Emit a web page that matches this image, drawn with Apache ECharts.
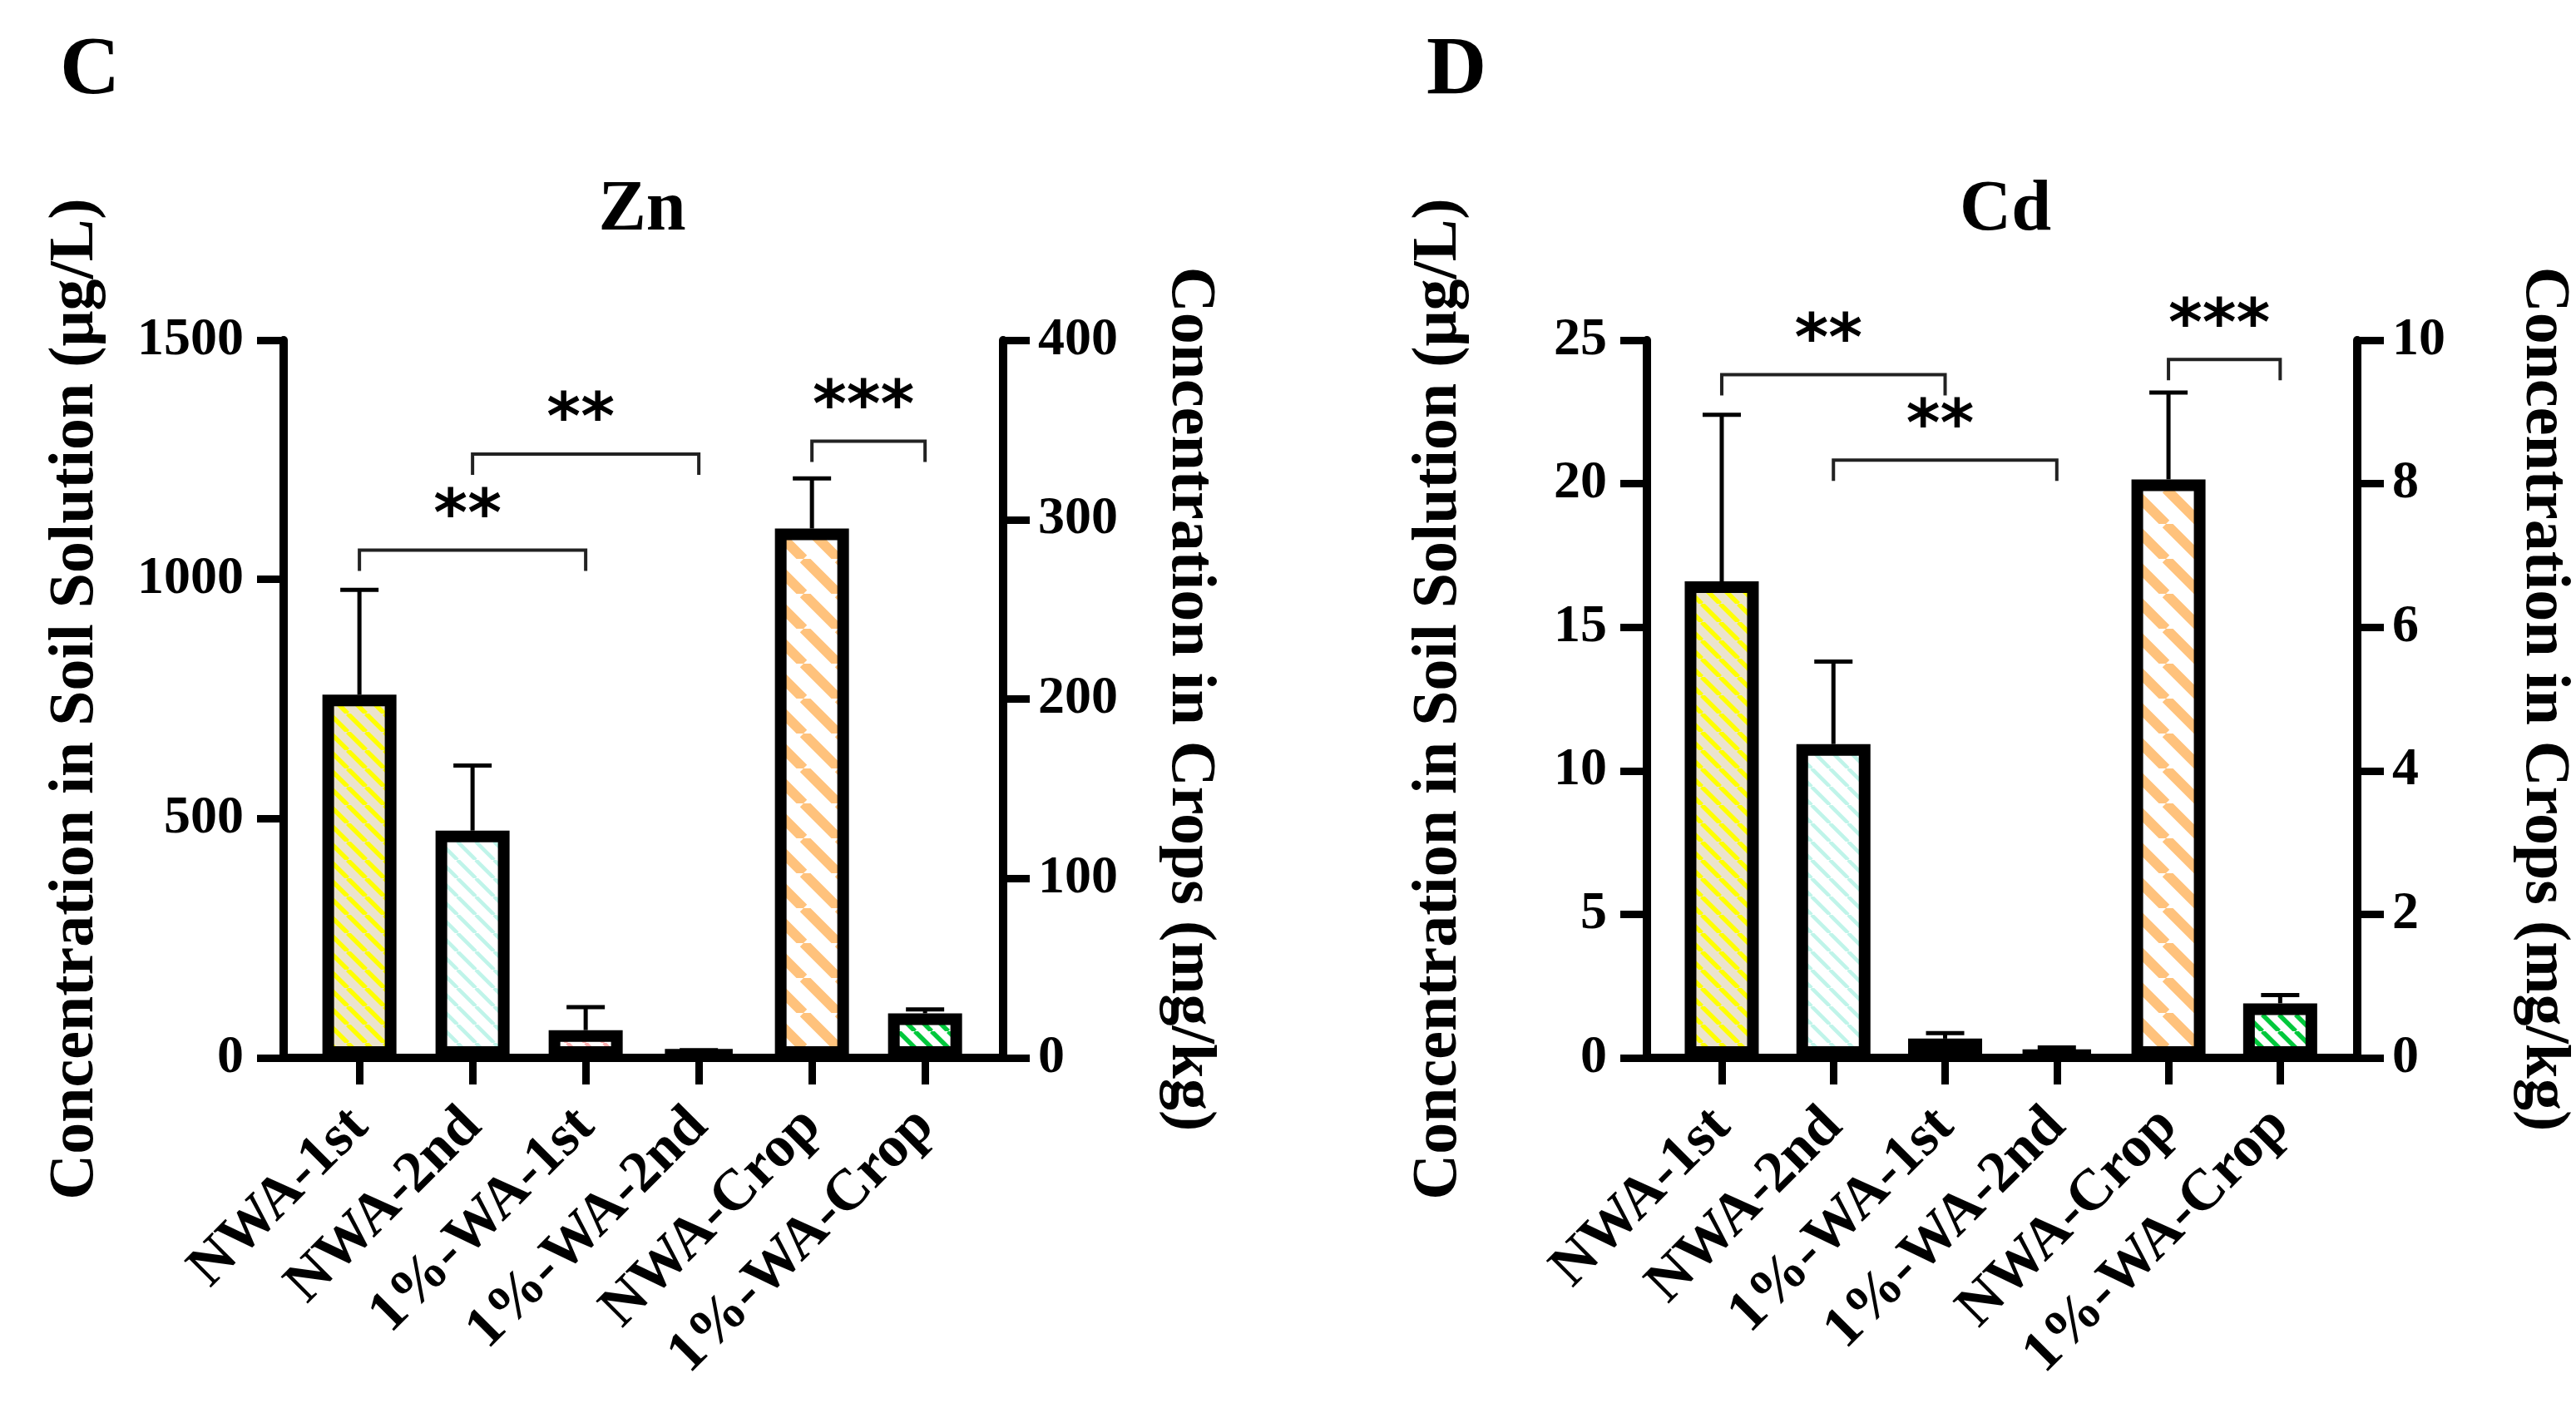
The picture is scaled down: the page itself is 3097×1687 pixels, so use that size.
<!DOCTYPE html>
<html>
<head>
<meta charset="utf-8">
<script src="https://cdn.jsdelivr.net/npm/echarts@6/dist/echarts.min.js"></script>
<style>
  html, body { margin: 0; padding: 0; background: #fff; }
  #chart { width: 3097px; height: 1687px; }
</style>
</head>
<body>
<div id="chart"></div>
<script>
// categories
var categories = ['NWA-1st', 'NWA-2nd', '1%-WA-1st', '1%-WA-2nd', 'NWA-Crop', '1%-WA-Crop'];

// Zn: soil solution (µg/L, left axis) and crops (mg/kg, right axis)
var znSoil = [759, 475, 58, 13];
var znSoilErr = [978, 611, 106, 16];
var znCrop = [295, 24.8];
var znCropErr = [323, 27];

// Cd
var cdSoil = [16.6, 10.93, 0.67, 0.19];
var cdSoilErr = [22.4, 13.8, 0.86, 0.36];
var cdCrop = [8.06, 0.76];
var cdCropErr = [9.27, 0.875];

// significance brackets: [from index, to index, height], heights in axis units
var znSoilBrackets = [[0, 2, 1061], [1, 3, 1262]];
var znCropBrackets = [[4, 5, 343.7]];
var cdSoilBrackets = [[0, 2, 23.8], [1, 3, 20.82]];
var cdCropBrackets = [[4, 5, 9.73]];
var znSoilStars = ['**', '**'];
var znCropStars = ['***'];
var cdSoilStars = ['**', '**'];
var cdCropStars = ['***'];

// axis ticks: [min, max, interval]
var znLeftTicks = [0, 1500, 500];
var znRightTicks = [0, 400, 100];
var cdLeftTicks = [0, 25, 5];
var cdRightTicks = [0, 10, 2];

var SERIF = '"Liberation Serif", "DejaVu Serif", serif';

function hatch(bg, fg, size, lw) {
	var c = document.createElement('canvas');
	c.width = c.height = size;
	var g = c.getContext('2d');
	g.fillStyle = bg;
	g.fillRect(0, 0, size, size);
	g.strokeStyle = fg;
	g.lineWidth = lw;
	g.beginPath();
	for (var k = -1; k <= 1; k++) {
		g.moveTo(k * size, 0);
		g.lineTo(k * size + size, size);
	}
	g.stroke();
	return { image: c, repeat: 'repeat' };
}

var fills = [
	hatch('#ebe3cc', '#ffff00', 22, 5.5),
	hatch('#ffffff', '#bff4e9', 22, 4.5),
	hatch('#ffffff', '#ffaeae', 22, 4.5),
	hatch('#ffffff', '#c0c0f0', 22, 4.5),
	hatch('#ffffff', '#ffc27c', 42, 12),
	hatch('#ffffff', '#00c83c', 20, 5.5)
];

var chart = echarts.init(document.getElementById('chart'));

var grids = [
	{ left: 341, top: 409, width: 865, height: 863 },
	{ left: 1980, top: 409, width: 863, height: 863 }
];

// main category axis (value type so the side margins can match the figure)
function xAxis(gi) {
	return {
		type: 'value', gridIndex: gi, min: -0.67, max: 5.69,
		splitLine: { show: false },
		axisLine: { show: true, onZero: false, lineStyle: { color: '#000', width: 10 } },
		axisTick: { show: true, customValues: [0, 1, 2, 3, 4, 5], length: 32, lineStyle: { color: '#000', width: 9 } },
		axisLabel: {
			customValues: [0, 1, 2, 3, 4, 5],
			rotate: 45, margin: 72,
			fontFamily: SERIF, fontWeight: 'bold', fontSize: 70, color: '#000',
			formatter: function (v) { return categories[Math.round(v)]; }
		}
	};
}

// hidden twin axis for the crop bars, so both bar groups keep full width
function xAxisHidden(gi) {
	return { type: 'value', gridIndex: gi, min: -0.67, max: 5.69, show: false };
}

function yAxis(gi, ticks, pos, name) {
	var right = pos === 'right';
	return {
		type: 'value', gridIndex: gi, position: pos,
		min: ticks[0], max: ticks[1], interval: ticks[2],
		name: name, nameLocation: 'middle',
		nameGap: right ? 186 : 212,
		nameRotate: right ? -90 : 90,
		nameTextStyle: { fontFamily: SERIF, fontWeight: 'bold', fontSize: 76, color: '#000' },
		splitLine: { show: false },
		axisLine: { show: true, onZero: false, lineStyle: { color: '#000', width: 10 } },
		axisTick: { show: true, length: 32, lineStyle: { color: '#000', width: 9 } },
		axisLabel: {
			margin: right ? 42 : 48, fontFamily: SERIF, fontWeight: 'bold', fontSize: 64, color: '#000',
			formatter: function (v) { return String(v); }
		}
	};
}

function barData(vals, offset) {
	return vals.map(function (v, i) {
		return { value: [i + offset, v], itemStyle: { color: fills[i + offset] } };
	});
}

function errData(vals, errs, offset) {
	return vals.map(function (v, i) { return [i + offset, v, errs[i]]; });
}

function renderErr(params, api) {
	var x = api.value(0);
	var p0 = api.coord([x, api.value(1)]);
	var p1 = api.coord([x, api.value(2)]);
	var st = { stroke: '#000', lineWidth: 5 };
	return {
		type: 'group',
		children: [
			{ type: 'line', shape: { x1: p0[0], y1: p0[1], x2: p1[0], y2: p1[1] }, style: st },
			{ type: 'line', shape: { x1: p1[0] - 23, y1: p1[1], x2: p1[0] + 23, y2: p1[1] }, style: st }
		]
	};
}

function bracketRenderer(stars) {
	return function (params, api) {
		var a = api.coord([api.value(0), api.value(2)]);
		var b = api.coord([api.value(1), api.value(2)]);
		var drop = 25;
		return {
			type: 'group',
			children: [
				{
					type: 'polyline',
					shape: { points: [[a[0], a[1] + drop], [a[0], a[1]], [b[0], b[1]], [b[0], b[1] + drop]] },
					style: { stroke: '#222', lineWidth: 4, fill: null }
				},
				{
					type: 'text',
					style: {
						text: stars[params.dataIndex],
						x: (a[0] + b[0]) / 2 - 6, y: a[1] - 38,
						align: 'center', verticalAlign: 'middle',
						font: 'bold 78px "DejaVu Sans", sans-serif', fill: '#000'
					}
				}
			]
		};
	};
}

function panelSeries(gi, soil, soilErr, crop, cropErr, sb, ss, cb, cs) {
	var xm = gi * 2, xh = gi * 2 + 1, yl = gi * 2, yr = gi * 2 + 1;
	var barStyle = { borderColor: '#000', borderWidth: 14 };
	return [
		{ type: 'bar', xAxisIndex: xm, yAxisIndex: yl, barWidth: 89, itemStyle: barStyle, data: barData(soil, 0), z: 3 },
		{ type: 'bar', xAxisIndex: xh, yAxisIndex: yr, barWidth: 89, itemStyle: barStyle, data: barData(crop, 4), z: 3 },
		{ type: 'custom', xAxisIndex: xm, yAxisIndex: yl, renderItem: renderErr, data: errData(soil, soilErr, 0), z: 2 },
		{ type: 'custom', xAxisIndex: xh, yAxisIndex: yr, renderItem: renderErr, data: errData(crop, cropErr, 4), z: 2 },
		{ type: 'custom', xAxisIndex: xm, yAxisIndex: yl, renderItem: bracketRenderer(ss), data: sb, z: 4 },
		{ type: 'custom', xAxisIndex: xh, yAxisIndex: yr, renderItem: bracketRenderer(cs), data: cb, z: 4 }
	];
}

var leftName = 'Concentration in Soil Solution (μg/L)';
var rightName = 'Concentration in Crops (mg/kg)';

var option = {
	backgroundColor: '#fff',
	animation: false,
	grid: grids,
	xAxis: [xAxis(0), xAxisHidden(0), xAxis(1), xAxisHidden(1)],
	yAxis: [
		yAxis(0, znLeftTicks, 'left', leftName),
		yAxis(0, znRightTicks, 'right', rightName),
		yAxis(1, cdLeftTicks, 'left', leftName),
		yAxis(1, cdRightTicks, 'right', rightName)
	],
	graphic: [
		{ type: 'text', style: { text: 'C', x: 72, y: 86, verticalAlign: 'middle', font: 'bold 100px ' + SERIF, fill: '#000' } },
		{ type: 'text', style: { text: 'D', x: 1715, y: 86, verticalAlign: 'middle', font: 'bold 100px ' + SERIF, fill: '#000' } },
		{ type: 'text', style: { text: 'Zn', x: 772, y: 254, align: 'center', verticalAlign: 'middle', font: 'bold 86px ' + SERIF, fill: '#000' } },
		{ type: 'text', style: { text: 'Cd', x: 2411, y: 254, align: 'center', verticalAlign: 'middle', font: 'bold 86px ' + SERIF, fill: '#000' } }
	],
	series: [].concat(
		panelSeries(0, znSoil, znSoilErr, znCrop, znCropErr, znSoilBrackets, znSoilStars, znCropBrackets, znCropStars),
		panelSeries(1, cdSoil, cdSoilErr, cdCrop, cdCropErr, cdSoilBrackets, cdSoilStars, cdCropBrackets, cdCropStars)
	)
};

chart.setOption(option);
</script>
</body>
</html>
